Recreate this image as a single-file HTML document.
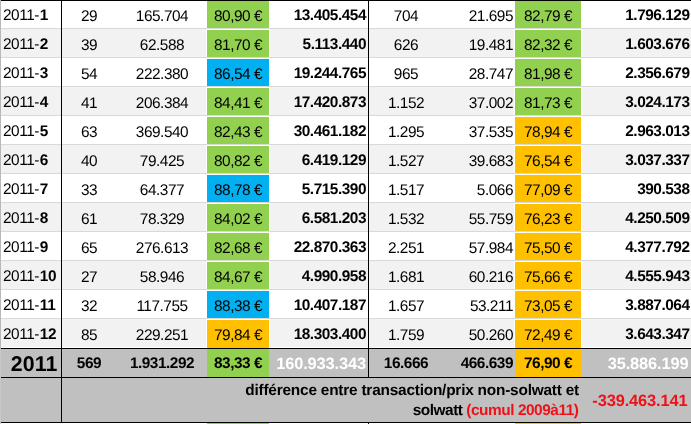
<!DOCTYPE html>
<html lang="fr"><head><meta charset="utf-8"><title>2011</title>
<style>
html,body{margin:0;padding:0;background:#fff;}
body{width:691px;height:424px;overflow:hidden;position:relative;font-family:"Liberation Sans",Arial,sans-serif;font-size:15px;color:#000;text-rendering:geometricPrecision;}
#s{position:absolute;left:0;top:0;width:691px;height:424px;overflow:hidden;background:#fff;}
#s div{position:absolute;}
.r{left:0;width:691px;height:28px;}
.gl{left:1px;width:690px;height:1px;background:#d9d9d9;}
.t{height:28px;line-height:28px;white-space:nowrap;letter-spacing:-0.47px;font-size:15.4px;}
.b{font-weight:bold;}
.c{text-align:center;}
.rt{text-align:right;}
.cc{height:27px;border-top:1px solid #fff;border-left:1px solid #fff;border-right:1px solid #fff;}
.k{background:#000;}
</style></head><body><div id="s">

<div class="r" style="top:0px;background:#fff"></div>
<div class="gl" style="top:28px"></div>
<div class="cc" style="left:206px;top:0px;width:62px;background:#92d050"></div>
<div class="cc" style="left:514px;top:0px;width:66px;background:#92d050"></div>
<div class="t" style="left:3px;top:2px">2011<span style="letter-spacing:0.4px">-</span><span class="b" style="letter-spacing:-0.2px">1</span></div>
<div class="t c" style="left:62px;top:3px;width:54px">29</div>
<div class="t c" style="left:116px;top:3px;width:92px">165.704</div>
<div class="t c" style="left:207px;top:3px;width:62px">80,90 €</div>
<div class="t b rt" style="left:269px;top:2px;width:97px">13.405.454</div>
<div class="t c" style="left:369px;top:3px;width:74px">704</div>
<div class="t rt" style="left:443px;top:3px;width:70px">21.695</div>
<div class="t c" style="left:515px;top:3px;width:66px">82,79 €</div>
<div class="t b rt" style="left:581px;top:2px;width:108.5px">1.796.129</div>
<div class="r" style="top:29px;background:#f2f2f2"></div>
<div class="gl" style="top:57px"></div>
<div class="cc" style="left:206px;top:29px;width:62px;background:#92d050"></div>
<div class="cc" style="left:514px;top:29px;width:66px;background:#92d050"></div>
<div class="t" style="left:3px;top:31px">2011<span style="letter-spacing:0.4px">-</span><span class="b" style="letter-spacing:-0.2px">2</span></div>
<div class="t c" style="left:62px;top:32px;width:54px">39</div>
<div class="t c" style="left:116px;top:32px;width:92px">62.588</div>
<div class="t c" style="left:207px;top:32px;width:62px">81,70 €</div>
<div class="t b rt" style="left:269px;top:31px;width:97px">5.113.440</div>
<div class="t c" style="left:369px;top:32px;width:74px">626</div>
<div class="t rt" style="left:443px;top:32px;width:70px">19.481</div>
<div class="t c" style="left:515px;top:32px;width:66px">82,32 €</div>
<div class="t b rt" style="left:581px;top:31px;width:108.5px">1.603.676</div>
<div class="r" style="top:58px;background:#fff"></div>
<div class="gl" style="top:86px"></div>
<div class="cc" style="left:206px;top:58px;width:62px;background:#00b0f0"></div>
<div class="cc" style="left:514px;top:58px;width:66px;background:#92d050"></div>
<div class="t" style="left:3px;top:60px">2011<span style="letter-spacing:0.4px">-</span><span class="b" style="letter-spacing:-0.2px">3</span></div>
<div class="t c" style="left:62px;top:61px;width:54px">54</div>
<div class="t c" style="left:116px;top:61px;width:92px">222.380</div>
<div class="t c" style="left:207px;top:61px;width:62px">86,54 €</div>
<div class="t b rt" style="left:269px;top:60px;width:97px">19.244.765</div>
<div class="t c" style="left:369px;top:61px;width:74px">965</div>
<div class="t rt" style="left:443px;top:61px;width:70px">28.747</div>
<div class="t c" style="left:515px;top:61px;width:66px">81,98 €</div>
<div class="t b rt" style="left:581px;top:60px;width:108.5px">2.356.679</div>
<div class="r" style="top:87px;background:#f2f2f2"></div>
<div class="gl" style="top:115px"></div>
<div class="cc" style="left:206px;top:87px;width:62px;background:#92d050"></div>
<div class="cc" style="left:514px;top:87px;width:66px;background:#92d050"></div>
<div class="t" style="left:3px;top:89px">2011<span style="letter-spacing:0.4px">-</span><span class="b" style="letter-spacing:-0.2px">4</span></div>
<div class="t c" style="left:62px;top:90px;width:54px">41</div>
<div class="t c" style="left:116px;top:90px;width:92px">206.384</div>
<div class="t c" style="left:207px;top:90px;width:62px">84,41 €</div>
<div class="t b rt" style="left:269px;top:89px;width:97px">17.420.873</div>
<div class="t c" style="left:369px;top:90px;width:74px">1.152</div>
<div class="t rt" style="left:443px;top:90px;width:70px">37.002</div>
<div class="t c" style="left:515px;top:90px;width:66px">81,73 €</div>
<div class="t b rt" style="left:581px;top:89px;width:108.5px">3.024.173</div>
<div class="r" style="top:116px;background:#fff"></div>
<div class="gl" style="top:144px"></div>
<div class="cc" style="left:206px;top:116px;width:62px;background:#92d050"></div>
<div class="cc" style="left:514px;top:116px;width:66px;background:#ffc000"></div>
<div class="t" style="left:3px;top:118px">2011<span style="letter-spacing:0.4px">-</span><span class="b" style="letter-spacing:-0.2px">5</span></div>
<div class="t c" style="left:62px;top:119px;width:54px">63</div>
<div class="t c" style="left:116px;top:119px;width:92px">369.540</div>
<div class="t c" style="left:207px;top:119px;width:62px">82,43 €</div>
<div class="t b rt" style="left:269px;top:118px;width:97px">30.461.182</div>
<div class="t c" style="left:369px;top:119px;width:74px">1.295</div>
<div class="t rt" style="left:443px;top:119px;width:70px">37.535</div>
<div class="t c" style="left:515px;top:119px;width:66px">78,94 €</div>
<div class="t b rt" style="left:581px;top:118px;width:108.5px">2.963.013</div>
<div class="r" style="top:145px;background:#f2f2f2"></div>
<div class="gl" style="top:173px"></div>
<div class="cc" style="left:206px;top:145px;width:62px;background:#92d050"></div>
<div class="cc" style="left:514px;top:145px;width:66px;background:#ffc000"></div>
<div class="t" style="left:3px;top:147px">2011<span style="letter-spacing:0.4px">-</span><span class="b" style="letter-spacing:-0.2px">6</span></div>
<div class="t c" style="left:62px;top:148px;width:54px">40</div>
<div class="t c" style="left:116px;top:148px;width:92px">79.425</div>
<div class="t c" style="left:207px;top:148px;width:62px">80,82 €</div>
<div class="t b rt" style="left:269px;top:147px;width:97px">6.419.129</div>
<div class="t c" style="left:369px;top:148px;width:74px">1.527</div>
<div class="t rt" style="left:443px;top:148px;width:70px">39.683</div>
<div class="t c" style="left:515px;top:148px;width:66px">76,54 €</div>
<div class="t b rt" style="left:581px;top:147px;width:108.5px">3.037.337</div>
<div class="r" style="top:174px;background:#fff"></div>
<div class="gl" style="top:202px"></div>
<div class="cc" style="left:206px;top:174px;width:62px;background:#00b0f0"></div>
<div class="cc" style="left:514px;top:174px;width:66px;background:#ffc000"></div>
<div class="t" style="left:3px;top:176px">2011<span style="letter-spacing:0.4px">-</span><span class="b" style="letter-spacing:-0.2px">7</span></div>
<div class="t c" style="left:62px;top:177px;width:54px">33</div>
<div class="t c" style="left:116px;top:177px;width:92px">64.377</div>
<div class="t c" style="left:207px;top:177px;width:62px">88,78 €</div>
<div class="t b rt" style="left:269px;top:176px;width:97px">5.715.390</div>
<div class="t c" style="left:369px;top:177px;width:74px">1.517</div>
<div class="t rt" style="left:443px;top:177px;width:70px">5.066</div>
<div class="t c" style="left:515px;top:177px;width:66px">77,09 €</div>
<div class="t b rt" style="left:581px;top:176px;width:108.5px">390.538</div>
<div class="r" style="top:203px;background:#f2f2f2"></div>
<div class="gl" style="top:231px"></div>
<div class="cc" style="left:206px;top:203px;width:62px;background:#92d050"></div>
<div class="cc" style="left:514px;top:203px;width:66px;background:#ffc000"></div>
<div class="t" style="left:3px;top:205px">2011<span style="letter-spacing:0.4px">-</span><span class="b" style="letter-spacing:-0.2px">8</span></div>
<div class="t c" style="left:62px;top:206px;width:54px">61</div>
<div class="t c" style="left:116px;top:206px;width:92px">78.329</div>
<div class="t c" style="left:207px;top:206px;width:62px">84,02 €</div>
<div class="t b rt" style="left:269px;top:205px;width:97px">6.581.203</div>
<div class="t c" style="left:369px;top:206px;width:74px">1.532</div>
<div class="t rt" style="left:443px;top:206px;width:70px">55.759</div>
<div class="t c" style="left:515px;top:206px;width:66px">76,23 €</div>
<div class="t b rt" style="left:581px;top:205px;width:108.5px">4.250.509</div>
<div class="r" style="top:232px;background:#fff"></div>
<div class="gl" style="top:260px"></div>
<div class="cc" style="left:206px;top:232px;width:62px;background:#92d050"></div>
<div class="cc" style="left:514px;top:232px;width:66px;background:#ffc000"></div>
<div class="t" style="left:3px;top:234px">2011<span style="letter-spacing:0.4px">-</span><span class="b" style="letter-spacing:-0.2px">9</span></div>
<div class="t c" style="left:62px;top:235px;width:54px">65</div>
<div class="t c" style="left:116px;top:235px;width:92px">276.613</div>
<div class="t c" style="left:207px;top:235px;width:62px">82,68 €</div>
<div class="t b rt" style="left:269px;top:234px;width:97px">22.870.363</div>
<div class="t c" style="left:369px;top:235px;width:74px">2.251</div>
<div class="t rt" style="left:443px;top:235px;width:70px">57.984</div>
<div class="t c" style="left:515px;top:235px;width:66px">75,50 €</div>
<div class="t b rt" style="left:581px;top:234px;width:108.5px">4.377.792</div>
<div class="r" style="top:261px;background:#f2f2f2"></div>
<div class="gl" style="top:289px"></div>
<div class="cc" style="left:206px;top:261px;width:62px;background:#92d050"></div>
<div class="cc" style="left:514px;top:261px;width:66px;background:#ffc000"></div>
<div class="t" style="left:3px;top:263px">2011<span style="letter-spacing:0.4px">-</span><span class="b" style="letter-spacing:-0.2px">10</span></div>
<div class="t c" style="left:62px;top:264px;width:54px">27</div>
<div class="t c" style="left:116px;top:264px;width:92px">58.946</div>
<div class="t c" style="left:207px;top:264px;width:62px">84,67 €</div>
<div class="t b rt" style="left:269px;top:263px;width:97px">4.990.958</div>
<div class="t c" style="left:369px;top:264px;width:74px">1.681</div>
<div class="t rt" style="left:443px;top:264px;width:70px">60.216</div>
<div class="t c" style="left:515px;top:264px;width:66px">75,66 €</div>
<div class="t b rt" style="left:581px;top:263px;width:108.5px">4.555.943</div>
<div class="r" style="top:290px;background:#fff"></div>
<div class="gl" style="top:318px"></div>
<div class="cc" style="left:206px;top:290px;width:62px;background:#00b0f0"></div>
<div class="cc" style="left:514px;top:290px;width:66px;background:#ffc000"></div>
<div class="t" style="left:3px;top:292px">2011<span style="letter-spacing:0.4px">-</span><span class="b" style="letter-spacing:-0.2px">11</span></div>
<div class="t c" style="left:62px;top:293px;width:54px">32</div>
<div class="t c" style="left:116px;top:293px;width:92px">117.755</div>
<div class="t c" style="left:207px;top:293px;width:62px">88,38 €</div>
<div class="t b rt" style="left:269px;top:292px;width:97px">10.407.187</div>
<div class="t c" style="left:369px;top:293px;width:74px">1.657</div>
<div class="t rt" style="left:443px;top:293px;width:70px">53.211</div>
<div class="t c" style="left:515px;top:293px;width:66px">73,05 €</div>
<div class="t b rt" style="left:581px;top:292px;width:108.5px">3.887.064</div>
<div class="r" style="top:319px;background:#f2f2f2"></div>
<div class="cc" style="left:206px;top:319px;width:62px;background:#ffc000"></div>
<div class="cc" style="left:514px;top:319px;width:66px;background:#ffc000"></div>
<div class="t" style="left:3px;top:321px">2011<span style="letter-spacing:0.4px">-</span><span class="b" style="letter-spacing:-0.2px">12</span></div>
<div class="t c" style="left:62px;top:322px;width:54px">85</div>
<div class="t c" style="left:116px;top:322px;width:92px">229.251</div>
<div class="t c" style="left:207px;top:322px;width:62px">79,84 €</div>
<div class="t b rt" style="left:269px;top:321px;width:97px">18.303.400</div>
<div class="t c" style="left:369px;top:322px;width:74px">1.759</div>
<div class="t rt" style="left:443px;top:322px;width:70px">50.260</div>
<div class="t c" style="left:515px;top:322px;width:66px">72,49 €</div>
<div class="t b rt" style="left:581px;top:321px;width:108.5px">3.643.347</div>
<div style="left:0;top:347px;width:691px;height:1px;background:#fff"></div>
<div style="left:207px;top:347px;width:62px;height:1px;background:#ffc000"></div>
<div style="left:515px;top:347px;width:66px;height:1px;background:#ffc000"></div>
<div style="left:0;top:349px;width:691px;height:73px;background:#c0c0c0"></div>
<div style="left:207px;top:349px;width:62px;height:28px;background:#92d050"></div>
<div style="left:515px;top:349px;width:66px;height:28px;background:#ffc000"></div>
<div style="left:0;top:423px;width:691px;height:1px;background:#fff"></div>
<div style="left:207px;top:423px;width:62px;height:1px;background:#92d050"></div>
<div style="left:515px;top:423px;width:66px;height:1px;background:#ffc000"></div>
<div class="k" style="left:0;top:0;width:691px;height:1px"></div>
<div class="k" style="left:0;top:348px;width:691px;height:1px"></div>
<div class="k" style="left:0;top:377px;width:691px;height:1px"></div>
<div class="k" style="left:0;top:422px;width:691px;height:1px"></div>
<div class="k" style="left:61px;top:0;width:1px;height:423px"></div>
<div class="k" style="left:368px;top:0;width:1px;height:378px"></div>
<div class="k" style="left:368px;top:423px;width:1px;height:1px"></div>
<div style="left:0;top:0;width:1px;height:349px;background:#b8b8b8"></div>
<div style="left:0;top:349px;width:1px;height:75px;background:#c8c8c8"></div>
<div class="t b rt" style="left:1px;top:350px;width:56.5px;font-size:21.33px;letter-spacing:0.14px">2011</div>
<div class="t b c" style="left:62px;top:350px;width:54px">569</div>
<div class="t b c" style="left:116px;top:350px;width:92px">1.931.292</div>
<div class="t b c" style="left:207px;top:350px;width:62px">83,33 €</div>
<div class="t b rt" style="left:269px;top:350px;width:97px;font-size:16.4px;letter-spacing:-0.12px;color:#fff">160.933.343</div>
<div class="t b c" style="left:369px;top:350px;width:74px">16.666</div>
<div class="t b rt" style="left:443px;top:350px;width:70px">466.639</div>
<div class="t b c" style="left:515px;top:350px;width:66px">76,90 €</div>
<div class="t b rt" style="left:581px;top:350px;width:107.5px;font-size:16.4px;letter-spacing:-0.12px;color:#fff">35.886.199</div>
<div class="t b rt" style="left:200px;top:381px;width:379px;height:20px;line-height:20px;letter-spacing:-0.21px">différence entre transaction/prix non-solwatt et</div>
<div class="t b rt" style="left:200px;top:401px;width:378.5px;height:20px;line-height:20px;letter-spacing:-0.45px">solwatt <span style="color:#f01018">(cumul 2009à11)</span></div>
<div class="t b rt" style="left:581px;top:387px;width:106.5px;font-size:16.4px;letter-spacing:-0.12px;color:#f01018">-339.463.141</div>
</div></body></html>
